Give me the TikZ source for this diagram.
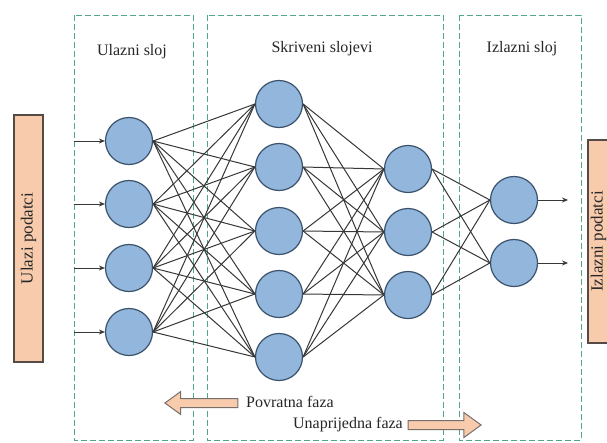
\documentclass[tikz,border=0pt]{standalone}
\usepackage{fontspec}
\setmainfont{Liberation Serif}
\usetikzlibrary{arrows.meta,shapes.arrows}
\definecolor{nfill}{RGB}{146,182,220}
\definecolor{nborder}{RGB}{58,82,108}
\definecolor{ofill}{RGB}{248,203,173}
\definecolor{oborder}{RGB}{85,75,70}
\definecolor{dgreen}{RGB}{82,168,132}
\definecolor{wire}{RGB}{55,55,55}
\begin{document}
\begin{tikzpicture}[x=1pt,y=-1pt,
  neuron/.style={circle,draw=nborder,fill=nfill,minimum size=47pt,inner sep=0pt,line width=1.2pt},
  layerbox/.style={draw=dgreen,line width=0.9pt,dash pattern=on 6pt off 3pt},
  databox/.style={draw=oborder,fill=ofill,line width=1.2pt},
  lbl/.style={font=\fontsize{16}{19}\selectfont,text=black!85,inner sep=0pt},
  rlbl/.style={font=\fontsize{17}{20}\selectfont,text=black!85,rotate=90,inner sep=0pt},
  conn/.style={draw=wire,line width=1pt},
  ioarrow/.style={draw=wire,line width=1pt,-{Stealth[length=6pt,width=5pt]}},
  blockarrow/.style={single arrow,draw=oborder!80,fill=ofill,line width=1pt,inner sep=0pt,
     inner ysep=4pt,single arrow head extend=7pt,single arrow tip angle=72,minimum width=22pt}
]
\clip (0,0) rectangle (607,442);
\useasboundingbox (0,0) rectangle (607,442);
\fill[white] (0,0) rectangle (607,442);

% layer boxes
\draw[layerbox] (74,15) rectangle (193,440);
\draw[layerbox] (207,15) rectangle (443,440);
\draw[layerbox] (459,15) rectangle (581,440);

% titles
\node[lbl,anchor=base] (t1) at (132,55) {Ulazni sloj};
\node[lbl,anchor=base] (t2) at (322,52) {Skriveni slojevi};
\node[lbl,anchor=base] (t3) at (522,52) {Izlazni sloj};

% data boxes
\node[databox,minimum width=29pt,minimum height=247pt,inner sep=0pt] (inbox) at (28.5,238.5) {};
\node[rlbl] (inlbl) at (inbox.center) {Ulazi podatci};
\node[databox,minimum width=29pt,minimum height=203pt,inner sep=0pt] (outbox) at (602.5,241.5) {};
\node[rlbl] (outlbl) at (598.5,241.5) {Izlazni podatci};

% neurons
\foreach \i/\y in {1/141,2/204,3/268,4/332} \node[neuron] (a\i) at (129,\y) {};
\foreach \i/\y in {1/104,2/167,3/231,4/294,5/357} \node[neuron] (b\i) at (279,\y) {};
\foreach \i/\y in {1/169,2/232,3/295} \node[neuron] (c\i) at (408,\y) {};
\foreach \i/\y in {1/200,2/263} \node[neuron] (d\i) at (514,\y) {};

% connections
\foreach \i in {1,...,4} \foreach \j in {1,...,5} \draw[conn] (a\i.east) -- (b\j.west);
\foreach \i in {1,...,5} \foreach \j in {1,...,3} \draw[conn] (b\i.east) -- (c\j.west);
\foreach \i in {1,...,3} \foreach \j in {1,2} \draw[conn] (c\i.east) -- (d\j.west);

% input arrows
\foreach \i/\y in {1/141,2/204,3/268,4/332} {
  \coordinate (s\i) at (74,\y);
  \draw[ioarrow] (s\i) -- (a\i.west);
}
% output arrows
\foreach \i/\y in {1/200,2/263} {
  \coordinate (e\i) at (568,\y);
  \draw[ioarrow] (d\i.east) -- (e\i);
}

% phase arrows
\node[blockarrow,shape border rotate=180,minimum height=73pt] (back) at (204.5,403) {};
\node[lbl,anchor=west] (backlbl) at (246,402) {Povratna faza};
\node[blockarrow,minimum height=73pt,minimum width=24pt,single arrow head extend=8pt] (fwd) at (441.5,425) {};
\node[lbl,anchor=east] (fwdlbl) at (403,425) {Unaprijedna faza};
\end{tikzpicture}
\end{document}
